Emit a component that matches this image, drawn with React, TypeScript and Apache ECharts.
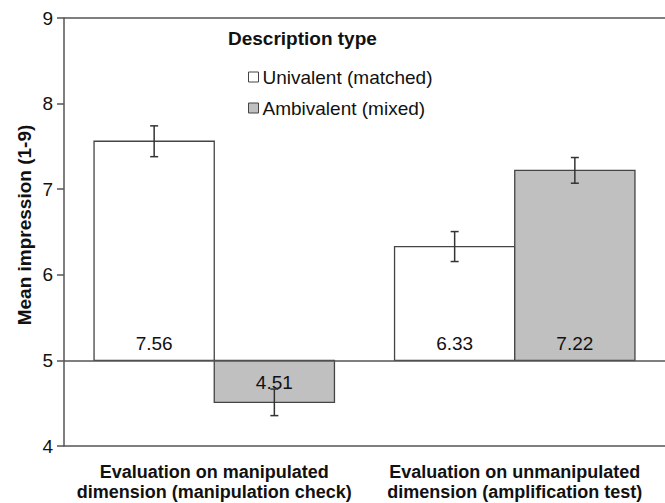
import React, { useEffect, useRef } from "react";
import * as echarts from "echarts";

const categories = [
  "Evaluation on manipulated\ndimension (manipulation check)",
  "Evaluation on unmanipulated\ndimension (amplification test)",
];
const seriesNames = ["Univalent (matched)", "Ambivalent (mixed)"];
const univalentMeans = [7.56, 6.33];
const univalentErrors = [0.18, 0.175];
const ambivalentMeans = [4.51, 7.22];
const ambivalentErrors = [0.155, 0.15];
const yTicks = { min: 4, max: 9, interval: 1 };
const baselineValue = 5;
const yAxisTitle = "Mean impression (1-9)";
const legendTitle = "Description type";

const FONT = "'Liberation Sans', Arial, Helvetica, sans-serif";
const fills = ["#ffffff", "#c0c0c0"];

function makeRender(seriesIdx: number) {
  return (params: any, api: any) => {
    const ci = api.value(0);
    const v = api.value(1);
    const e = api.value(2);
    const band = api.size([1, 0])[0];
    const bw = band * 0.4;
    const c = api.coord([ci, v]);
    const cx = c[0];
    const left = seriesIdx === 0 ? cx - bw : cx;
    const mid = left + bw / 2;
    const yV = c[1];
    const yB = api.coord([ci, baselineValue])[1];
    const yTop = api.coord([ci, v + e])[1];
    const yBot = api.coord([ci, v - e])[1];
    const top = Math.min(yV, yB);
    const h = Math.abs(yB - yV);
    const labelY = v >= baselineValue ? yB - 17 : (yB + yV) / 2 + 1;
    const capW = 4;
    const lineStyle = { stroke: "#333", lineWidth: 1.5 };
    return {
      type: "group",
      children: [
        {
          type: "rect",
          shape: { x: left, y: top, width: bw, height: h },
          style: { fill: fills[seriesIdx], stroke: "#444", lineWidth: 1.3 },
        },
        {
          type: "text",
          style: {
            text: v.toFixed(2),
            x: mid,
            y: labelY,
            align: "center",
            verticalAlign: "middle",
            font: `19px ${FONT}`,
            fill: "#111",
          },
        },
        { type: "line", shape: { x1: mid, y1: yTop, x2: mid, y2: yBot }, style: lineStyle },
        { type: "line", shape: { x1: mid - capW, y1: yTop, x2: mid + capW, y2: yTop }, style: lineStyle },
        { type: "line", shape: { x1: mid - capW, y1: yBot, x2: mid + capW, y2: yBot }, style: lineStyle },
      ],
    };
  };
}

export default function App() {
  const ref = useRef<HTMLDivElement>(null);
  useEffect(() => {
    if (!ref.current) return;
    const chart = echarts.init(ref.current, undefined, { renderer: "svg" });
    const lineColor = "#555";
    chart.setOption({
      animation: false,
      backgroundColor: "#ffffff",
      title: {
        text: legendTitle,
        left: 228,
        top: 29,
        padding: 0,
        textStyle: { fontFamily: FONT, fontSize: 19, fontWeight: "bold", color: "#111" },
      },
      legend: {
        orient: "vertical",
        left: 248,
        top: 67,
        padding: 0,
        itemWidth: 10,
        itemHeight: 10,
        itemGap: 11,
        icon: "rect",
        textStyle: { fontFamily: FONT, fontSize: 19, color: "#111", lineHeight: 20, padding: [0, 0, 0, -1] },
        data: [
          { name: seriesNames[0], itemStyle: { color: fills[0], borderColor: "#444", borderWidth: 1 } },
          { name: seriesNames[1], itemStyle: { color: fills[1], borderColor: "#444", borderWidth: 1 } },
        ],
      },
      graphic: [
        {
          type: "text",
          x: 24,
          y: 225,
          rotation: Math.PI / 2,
          style: {
            text: yAxisTitle,
            align: "center",
            verticalAlign: "middle",
            font: `bold 19px ${FONT}`,
            fill: "#111",
          },
        },
      ],
      grid: { left: 64, right: -2, top: 18, bottom: 57 },
      xAxis: {
        type: "category",
        data: categories,
        axisLine: { show: true, onZero: false, lineStyle: { color: lineColor, width: 1.5 } },
        axisTick: { show: false },
        axisLabel: {
          margin: 16,
          fontFamily: FONT,
          fontSize: 18,
          fontWeight: "bold",
          color: "#111",
          lineHeight: 20,
          interval: 0,
        },
      },
      yAxis: {
        type: "value",
        min: yTicks.min,
        max: yTicks.max,
        interval: yTicks.interval,
        axisLine: { show: true, lineStyle: { color: lineColor, width: 1.5 } },
        axisTick: { show: true, length: 7, lineStyle: { color: lineColor, width: 1.5 } },
        axisLabel: { margin: 11, fontFamily: FONT, fontSize: 19, color: "#111" },
        splitLine: { show: false },
      },
      series: [
        {
          name: seriesNames[0],
          type: "custom",
          itemStyle: { color: fills[0], borderColor: "#444" },
          renderItem: makeRender(0),
          data: univalentMeans.map((v, i) => [i, v, univalentErrors[i]]),
          encode: { x: 0, y: 1 },
          z: 3,
          markLine: {
            silent: true,
            symbol: "none",
            label: { show: false },
            lineStyle: { color: lineColor, width: 1.5, type: "solid" },
            data: [{ yAxis: baselineValue }, { yAxis: yTicks.max }],
          },
        },
        {
          name: seriesNames[1],
          type: "custom",
          itemStyle: { color: fills[1], borderColor: "#444" },
          renderItem: makeRender(1),
          data: ambivalentMeans.map((v, i) => [i, v, ambivalentErrors[i]]),
          encode: { x: 0, y: 1 },
          z: 3,
        },
      ],
    });
    return () => chart.dispose();
  }, []);
  return (
    <div
      ref={ref}
      style={{ position: "absolute", left: 0, top: 0, width: 665, height: 503 }}
    />
  );
}
